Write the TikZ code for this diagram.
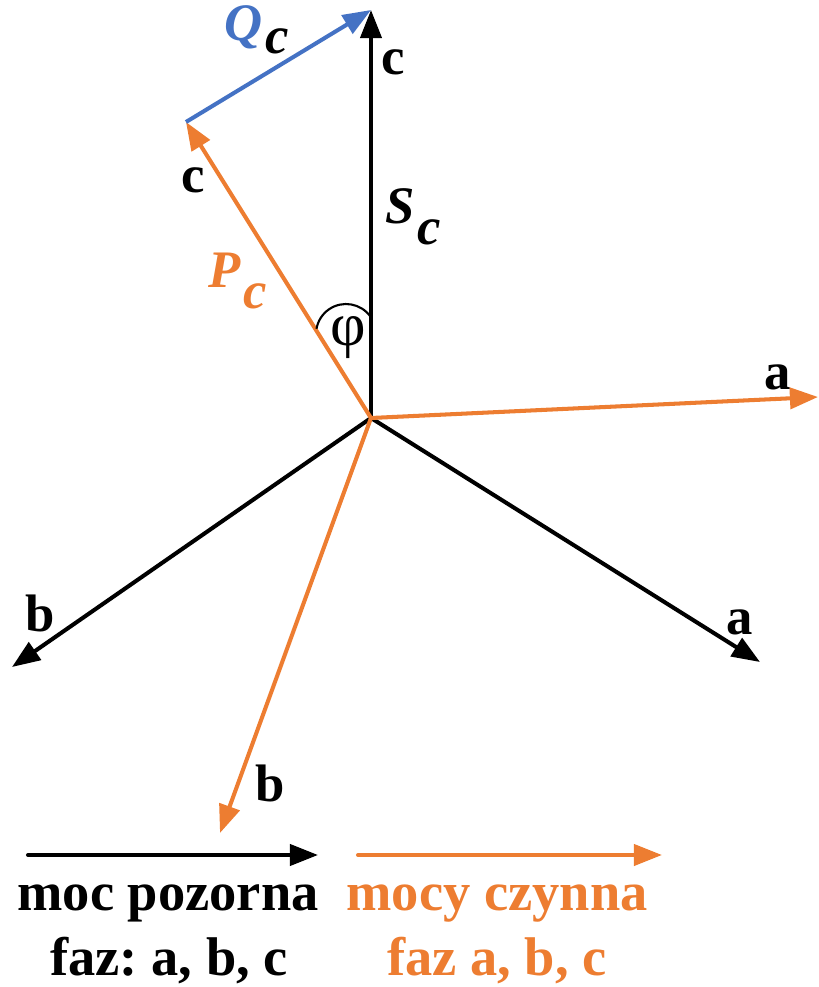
\documentclass[tikz,border=0pt]{standalone}
\usepackage{fontspec}
\setmainfont{Liberation Serif}[
  UprightFont=*,
  BoldFont=* Bold,
  ItalicFont=* Italic,
  BoldItalicFont=* Bold Italic]
\usetikzlibrary{arrows.meta}
\definecolor{pcolor}{RGB}{237,125,49}
\definecolor{qcolor}{RGB}{68,114,196}
\frenchspacing
\newcommand{\sub}[2][-0.4em]{\kern0.05em\raisebox{#1}{#2}}
\tikzset{
  vec/.style={line width=2.3pt,-{Triangle[length=16pt,width=12pt]}},
  lbl/.style={font=\fontsize{30}{32}\selectfont\bfseries,inner sep=0pt},
  sym/.style={font=\fontsize{30}{32}\selectfont\bfseries\itshape,inner sep=0pt,anchor=base west},
  leg/.style={font=\fontsize{31}{34}\selectfont\bfseries,inner sep=0pt,anchor=base},
}

\begin{document}
\begin{tikzpicture}[x=0.02cm,y=-0.02cm]
\useasboundingbox (0,0) rectangle (818,987);
% star of vectors
\coordinate (O) at (371,418);
\coordinate (Sc) at (371,10);
\coordinate (Pc) at (186,122);
\coordinate (Sa) at (760,662);
\coordinate (Sb) at (12,667);
\coordinate (Pa) at (818,397);
\coordinate (Pb) at (220,833);
\draw[vec] (O) -- (Sc);
\draw[vec] (O) -- (Sa);
\draw[vec] (O) -- (Sb);
\draw[vec,pcolor] (O) -- (Pc);
\draw[vec,pcolor] (O) -- (Pa);
\draw[vec,pcolor] (O) -- (Pb);
\draw[vec,qcolor] (Pc) -- (Sc);
% angle
\draw[line width=1.2pt] (370.6,316.8) arc[start angle=-35,end angle=-170,radius=30];
\node[font=\fontsize{35}{36}\selectfont,inner sep=0pt] (phi) at (348,338) {φ};
% labels
\node[lbl] (lc1) at (393,62) {c};
\node[lbl] (lc2) at (193,180) {c};
\node[lbl] (la1) at (778,377) {a};
\node[lbl] (la2) at (740,622) {a};
\node[lbl] (lb1) at (40,613) {b};
\node[lbl] (lb2) at (270,783) {b};
\node[sym] (lS) at (385,223) {S\sub{c}};
\node[sym,pcolor] (lP) at (208,287) {P\sub{c}};
\node[sym,qcolor] (lQ) at (224,40) {Q\sub[-0.25em]{\color{black}c}};
% legend
\coordinate (k1) at (28,855);
\coordinate (k2) at (318,855);
\coordinate (k3) at (358,855);
\coordinate (k4) at (662,855);
\draw[vec,line cap=round] (k1) -- (k2);
\draw[vec,line cap=round,pcolor] (k3) -- (k4);
\node[leg] (t1) at (168,910) {moc pozorna};
\node[leg] (t2) at (169,975) {faz: a, b, c};
\node[leg,pcolor] (t3) at (497,910) {mocy czynna};
\node[leg,pcolor] (t4) at (497,975) {faz a, b, c};
\end{tikzpicture}
\end{document}
